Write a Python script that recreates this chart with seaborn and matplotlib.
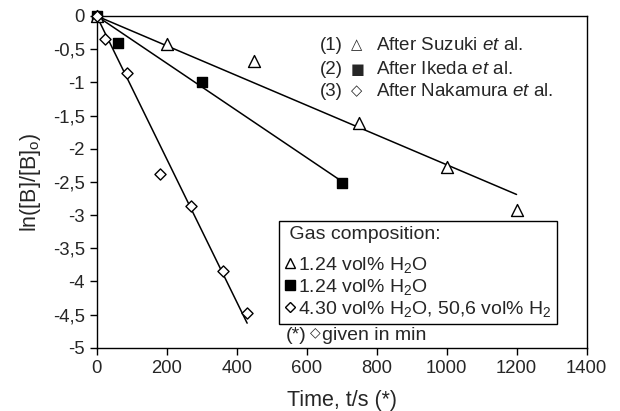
import matplotlib
matplotlib.use("Agg")
import matplotlib.pyplot as plt
from matplotlib.lines import Line2D
import seaborn as sns
import numpy as np

# ---- data ----
suzuki_t = [0, 200, 450, 750, 1000, 1200]
suzuki_y = [0, -0.42, -0.68, -1.61, -2.27, -2.93]
ikeda_t = [0, 60, 300, 700]
ikeda_y = [0, -0.40, -1.00, -2.51]
nakamura_t = [0, 25, 87, 180, 270, 360, 430]
nakamura_y = [0, -0.35, -0.86, -2.38, -2.87, -3.85, -4.47]

fit1_t = [0, 1200]
fit1_y = [0, -2.69]
fit2_t = [0, 700]
fit2_y = [0, -2.49]
fit3_t = [0, 430]
fit3_y = [0, -4.63]

xticks = [0, 200, 400, 600, 800, 1000, 1200, 1400]
yticks = [0, -0.5, -1, -1.5, -2, -2.5, -3, -3.5, -4, -4.5, -5]
ytick_labels = ["0", "-0,5", "-1", "-1,5", "-2", "-2,5", "-3", "-3,5", "-4", "-4,5", "-5"]

sns.set_style("ticks")
plt.rcParams['font.family'] = ['Liberation Sans', 'DejaVu Sans']
plt.rcParams['mathtext.fontset'] = 'custom'
plt.rcParams['mathtext.rm'] = 'Liberation Sans'
plt.rcParams['mathtext.it'] = 'Liberation Sans:italic'
plt.rcParams['mathtext.bf'] = 'Liberation Sans:bold'

W, H = 620, 411
fig = plt.figure(figsize=(6.2, 4.11), dpi=100)
ax = fig.add_axes([96.7 / W, 1 - 347.7 / H, (586.5 - 96.7) / W, (347.7 - 16) / H])

for ft, fy in [(fit1_t, fit1_y), (fit2_t, fit2_y), (fit3_t, fit3_y)]:
    sns.lineplot(x=ft, y=fy, ax=ax, color='black', lw=1.1, estimator=None, legend=False)

sns.scatterplot(x=ikeda_t, y=ikeda_y, ax=ax, marker='s', s=59,
                facecolor='black', edgecolor='black', linewidth=1.0, zorder=3, clip_on=False)
sns.scatterplot(x=suzuki_t, y=suzuki_y, ax=ax, marker='^', s=74,
                facecolor='white', edgecolor='black', linewidth=1.0, zorder=4, clip_on=False)
sns.scatterplot(x=nakamura_t, y=nakamura_y, ax=ax, marker='D', s=32,
                facecolor='white', edgecolor='black', linewidth=1.0, zorder=5, clip_on=False)

ax.set_xlim(0, 1400)
ax.set_ylim(-5, 0)
ax.set_xticks(xticks)
ax.set_yticks(yticks)
ax.set_yticklabels(ytick_labels)
ax.tick_params(axis='both', labelsize=13.3, direction='out', length=5, width=1, color='black')
for s in ax.spines.values():
    s.set_color('black')
    s.set_linewidth(1.0)

ax.set_xlabel("Time, t/s (*)", fontsize=15.5, labelpad=10)
ax.set_ylabel("ln([B]/[B]$_{\\mathrm{o}}$)", fontsize=15.5, labelpad=7)

# upper legend (text)
fs = 13.5
rows = [("(1)", "\u25b3", "After Suzuki $\\it{et}$ al.", 45),
        ("(2)", "\u25a0", "After Ikeda $\\it{et}$ al.", 69),
        ("(3)", "\u25c7", "After Nakamura $\\it{et}$ al.", 91)]
for num, sym, lab, y in rows:
    fig.text(320 / W, 1 - y / H, num, fontsize=fs, va='center', ha='left')
    fig.text(351 / W, 1 - y / H, sym, fontsize=10.5, va='center', ha='left', family='DejaVu Sans')
    fig.text(376 / W, 1 - y / H, lab, fontsize=fs, va='center', ha='left')

# lower legend box
fsb = 14
handles = [Line2D([], [], marker='^', ls='none', mfc='white', mec='black', ms=7),
           Line2D([], [], marker='s', ls='none', mfc='black', mec='black', ms=7),
           Line2D([], [], marker='D', ls='none', mfc='white', mec='black', ms=5.5)]
labels = ["1.24 vol% H$_2$O", "1.24 vol% H$_2$O", "4.30 vol% H$_2$O, 50,6 vol% H$_2$"]
leg = ax.legend(handles, labels, title=" Gas composition:", loc='upper left',
                bbox_to_anchor=(279 / W, 1 - 221 / H), bbox_transform=fig.transFigure,
                fontsize=fsb, title_fontsize=fsb, alignment='left', frameon=True,
                fancybox=False, edgecolor='black', framealpha=1, borderpad=0.28,
                labelspacing=0.1, handlelength=0.6, handletextpad=0.1, borderaxespad=0)
leg.get_frame().set_linewidth(1.0)
leg._legend_box.sep = 0.6 * fsb

fig.text(286 / W, 1 - 335 / H, "(*)", fontsize=fsb, va='center', ha='left')
fig.text(310 / W, 1 - 332 / H, "\u25c7", fontsize=10, va='center', ha='left', family='DejaVu Sans')
fig.text(322 / W, 1 - 335 / H, "given in min", fontsize=fsb, va='center', ha='left')

fig.savefig("out.png", dpi=100)
